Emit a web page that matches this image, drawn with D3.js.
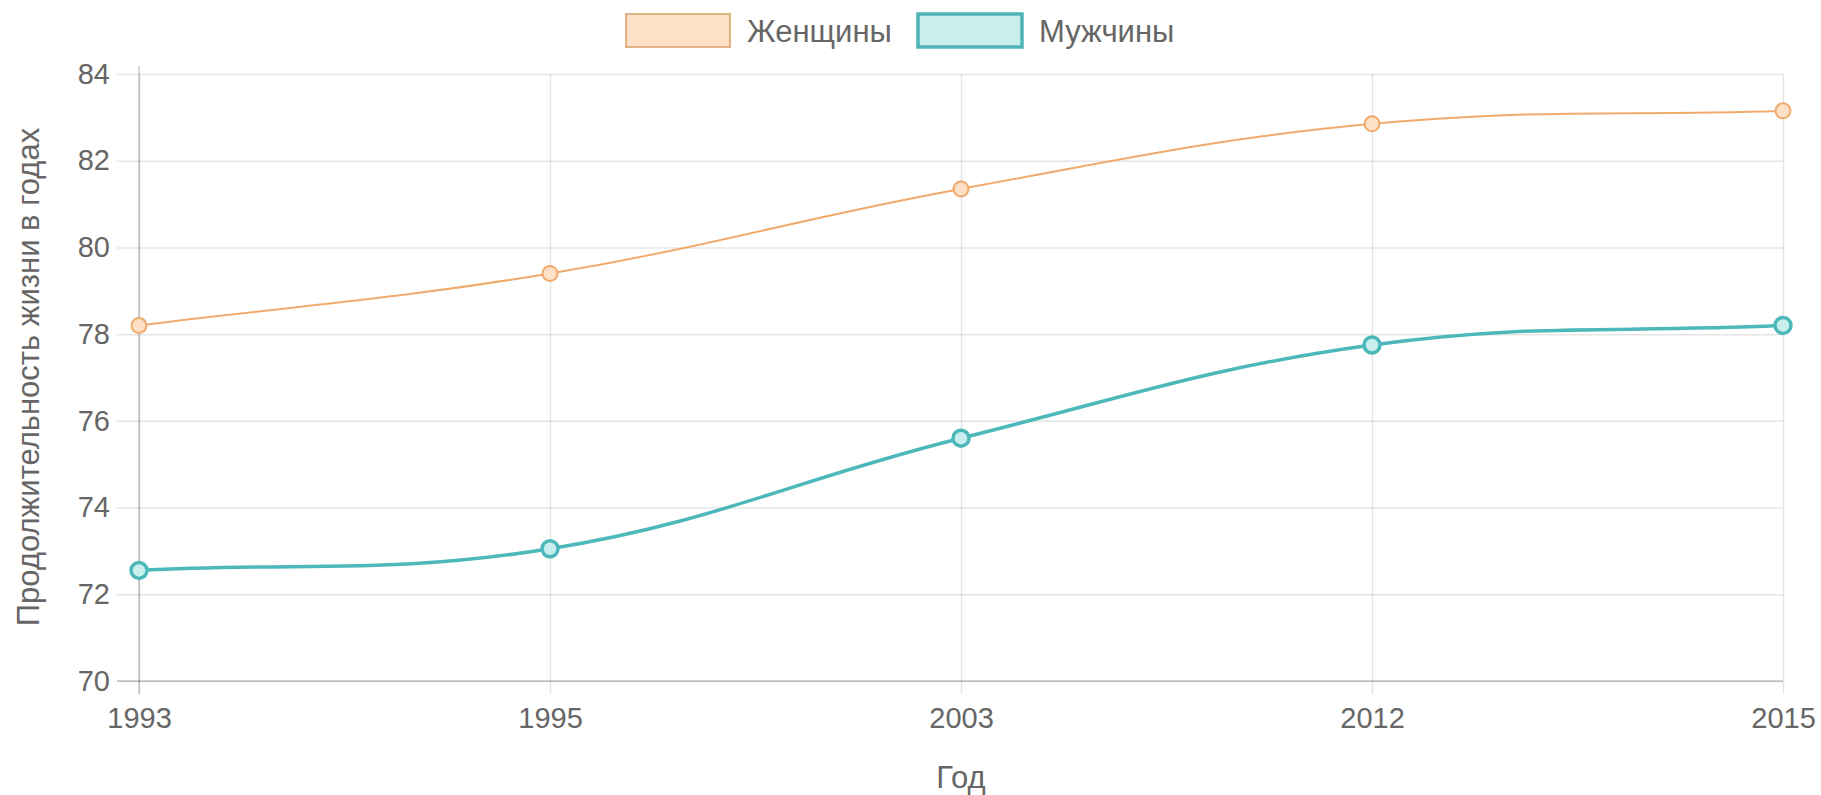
<!DOCTYPE html>
<html>
  <head>
    <script src="https://cdn.jsdelivr.net/npm/d3@7/dist/d3.min.js" charset="utf-8"></script>
    <style type="text/css">
      body {
        margin: 0;
        background: #fff;
        font-family: "Liberation Sans", Arial, sans-serif;
      }
      .grid line { stroke: rgba(0,0,0,0.1); stroke-width: 1.5; }
      text { fill: #666; }
    </style>
  </head>
  <body>
    <script type="text/javascript">
      // data
      var years = ["1993", "1995", "2003", "2012", "2015"];
      var women = [78.2, 79.4, 81.35, 82.85, 83.15];
      var men = [72.55, 73.05, 75.6, 77.75, 78.2];
      var yTicks = [70, 72, 74, 76, 78, 80, 82, 84];
      var seriesNames = ["Женщины", "Мужчины"];

      var w = 1821, h = 795,
          margin = { top: 74, right: 38, bottom: 114, left: 139 };

      var svg = d3.select("body").append("svg")
          .attr("width", w)
          .attr("height", h);

      var x = d3.scalePoint()
          .domain(years)
          .range([margin.left, w - margin.right]);

      var y = d3.scaleLinear()
          .domain([70, 84])
          .range([h - margin.bottom, margin.top]);

      // horizontal grid + y labels
      var yAxis = d3.axisLeft(y)
          .tickValues(yTicks)
          .tickSize(-(w - margin.right - margin.left))
          .tickPadding(30);

      var gy = svg.append("g")
          .attr("class", "grid")
          .attr("transform", "translate(" + margin.left + ",0)")
          .call(yAxis);
      gy.select(".domain").remove();
      gy.selectAll(".tick line").attr("x1", -22);
      gy.selectAll(".tick text")
          .attr("fill", "#666")
          .style("font-size", "29px")
          .attr("x", -29);

      // vertical grid + x labels
      var xAxis = d3.axisBottom(x)
          .tickSize(-(h - margin.bottom - margin.top))
          .tickPadding(20);

      var gx = svg.append("g")
          .attr("class", "grid")
          .attr("transform", "translate(0," + (h - margin.bottom) + ")")
          .call(xAxis);
      gx.select(".domain").remove();
      gx.selectAll(".tick line").attr("y1", 13);
      gx.selectAll(".tick text")
          .attr("fill", "#666")
          .style("font-size", "29px")
          .attr("y", 26);

      // darker axis lines
      svg.append("line")
          .attr("x1", margin.left - 22).attr("x2", w - margin.right)
          .attr("y1", y(70)).attr("y2", y(70))
          .attr("stroke", "rgba(0,0,0,0.16)").attr("stroke-width", 2);
      svg.append("line")
          .attr("x1", margin.left).attr("x2", margin.left)
          .attr("y1", margin.top - 8).attr("y2", y(70) + 13)
          .attr("stroke", "rgba(0,0,0,0.16)").attr("stroke-width", 2);

      // axis titles
      svg.append("text")
          .attr("x", x("2003"))
          .attr("y", 788)
          .attr("text-anchor", "middle")
          .style("font-size", "31px")
          .text("Год");

      svg.append("text")
          .attr("transform", "translate(39,377) rotate(-90)")
          .attr("text-anchor", "middle")
          .style("font-size", "31px")
          .text("Продолжительность жизни в годах");

      // spline like Chart.js (tension 0.4)
      function splinePath(pts, t) {
        var p = d3.path();
        var cps = pts.map(function (cur, i) {
          var prev = pts[Math.max(i - 1, 0)], next = pts[Math.min(i + 1, pts.length - 1)];
          var d01 = Math.hypot(cur[0] - prev[0], cur[1] - prev[1]);
          var d12 = Math.hypot(next[0] - cur[0], next[1] - cur[1]);
          var s01 = d01 / (d01 + d12) || 0, s12 = d12 / (d01 + d12) || 0;
          var fa = t * s01, fb = t * s12;
          return {
            prev: [cur[0] - fa * (next[0] - prev[0]), cur[1] - fa * (next[1] - prev[1])],
            next: [cur[0] + fb * (next[0] - prev[0]), cur[1] + fb * (next[1] - prev[1])]
          };
        });
        p.moveTo(pts[0][0], pts[0][1]);
        for (var i = 1; i < pts.length; i++) {
          p.bezierCurveTo(cps[i - 1].next[0], cps[i - 1].next[1],
                          cps[i].prev[0], cps[i].prev[1],
                          pts[i][0], pts[i][1]);
        }
        return p.toString();
      }

      var series = [
        { name: seriesNames[0], values: women, stroke: "#efaa6c", fill: "#fde0c6", width: 2, r: 7.5, pw: 2 },
        { name: seriesNames[1], values: men, stroke: "#4db8ba", fill: "#c8eeee", width: 3.5, r: 8, pw: 3.5 }
      ];

      series.forEach(function (s) {
        var pts = s.values.map(function (v, i) { return [x(years[i]), y(v)]; });
        svg.append("path")
            .attr("d", splinePath(pts, 0.4))
            .attr("fill", "none")
            .attr("stroke", s.stroke)
            .attr("stroke-width", s.width);

        svg.selectAll(null)
            .data(pts)
            .enter()
            .append("circle")
            .attr("cx", function (d) { return d[0]; })
            .attr("cy", function (d) { return d[1]; })
            .attr("r", s.r)
            .attr("fill", s.fill)
            .attr("stroke", s.stroke)
            .attr("stroke-width", s.pw);
      });

      // legend
      var legendX = [626, 918];
      series.forEach(function (s, i) {
        var g = svg.append("g").attr("transform", "translate(" + legendX[i] + ",14)");
        g.append("rect")
            .attr("width", 104).attr("height", 33)
            .attr("fill", s.fill)
            .attr("stroke", i === 0 ? "#e2b285" : "#4db3b5")
            .attr("stroke-width", i === 0 ? 2 : 3.5);
        g.append("text")
            .attr("x", 121).attr("y", 28)
            .style("font-size", "31px")
            .text(s.name);
      });
    </script>
  </body>
</html>
